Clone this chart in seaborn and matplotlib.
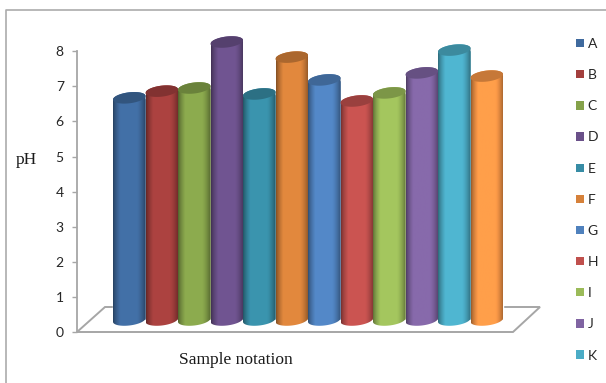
import numpy as np
import pandas as pd
import matplotlib
matplotlib.use("Agg")
import matplotlib.pyplot as plt
from matplotlib.lines import Line2D
from matplotlib.patches import Polygon, Patch
from matplotlib.path import Path
from matplotlib.colors import to_rgb
import seaborn as sns

# ---- data ----
samples = ["A", "B", "C", "D", "E", "F", "G", "H", "I", "J", "K", "L"]
ph_values = [6.33, 6.52, 6.61, 7.92, 6.44, 7.49, 6.84, 6.24, 6.47, 7.04, 7.69, 6.95]
colors = ["#3F6A9E", "#A33F3D", "#85A24A", "#6A5089", "#378CA5", "#D6813A",
          "#4F81BD", "#C0504D", "#9BBB59", "#8064A2", "#4BACC6", "#F79646"]
y_ticks = [0, 1, 2, 3, 4, 5, 6, 7, 8]

W, H = 606, 383
PX_PER_UNIT = 35.1
BAR_PX = 32.5
GRAY = "#A6A6A6"

sns.set_style("white")
plt.rcParams["font.family"] = ["Lato", "DejaVu Sans"]

fig = plt.figure(figsize=(W / 100, H / 100), dpi=100)
ax_left, ax_right, ax_bottom, ax_top = 77, 540, 332, 30
ax = fig.add_axes([ax_left / W, 1 - ax_bottom / H,
                   (ax_right - ax_left) / W, (ax_bottom - ax_top) / H])
ax.patch.set_alpha(0)

base = 12 / PX_PER_UNIT          # floor depth offset of the cylinders
a = 5.5 / PX_PER_UNIT            # ellipse half height
s = 1.8 / PX_PER_UNIT            # ellipse tilt

df = pd.DataFrame({"sample": samples, "pH": ph_values})
sns.barplot(data=df, x="sample", y="pH", hue="sample", palette=colors,
            width=1, bottom=base, dodge=False, errorbar=None, ax=ax, zorder=1, legend=False)

handles = [Patch(facecolor=c, edgecolor="none") for c in colors]
labels = list(samples)

# limits: pixel-derived
x0 = 129.25
to_x = lambda px: (px - x0) / BAR_PX
ax.set_xlim(to_x(ax_left), to_x(ax_right))
ymax = (ax_bottom - ax_top) / PX_PER_UNIT

# floor
floor_back = 25 / PX_PER_UNIT
floor = Polygon([(to_x(77), 0), (to_x(105), floor_back), (to_x(540), floor_back), (to_x(513), 0)],
                closed=True, facecolor="white", edgecolor=GRAY, lw=1.4, zorder=0.5, clip_on=False)
ax.add_patch(floor)

# cylinder shading
n = 80
u = np.linspace(0, 1, n)
shade = 0.60 + 0.46 * np.clip(u / 0.22, 0, 1) ** 0.7 - 0.42 * np.clip((u - 0.72) / 0.28, 0, 1) ** 1.5

t_top = np.linspace(0, np.pi, 50)
t_bot = np.linspace(np.pi, 2 * np.pi, 50)
t_all = np.linspace(0, 2 * np.pi, 100)

for i, (v, c) in enumerate(zip(ph_values, colors)):
    rgb = np.array(to_rgb(c))
    img = np.clip(shade[:, None] * rgb[None, :], 0, 1)[None, :, :]
    top = v + base
    xs = np.r_[i + 0.5 * np.cos(t_top), i + 0.5 * np.cos(t_bot)]
    ys = np.r_[top + a * np.sin(t_top) + s * np.cos(t_top),
               base + a * np.sin(t_bot) + s * np.cos(t_bot)]
    im = ax.imshow(img, extent=(i - 0.5, i + 0.5, 0, ymax), aspect="auto",
                   interpolation="bilinear", zorder=2 + i)
    im.set_clip_path(Path(np.c_[xs, ys]), transform=ax.transData)
    lid = Polygon(np.c_[i + 0.5 * np.cos(t_all),
                        top + a * np.sin(t_all) + s * np.cos(t_all)],
                  closed=True, facecolor=tuple(rgb * 0.8), edgecolor="none", zorder=2.5 + i)
    ax.add_patch(lid)

ax.set_xlim(to_x(ax_left), to_x(ax_right))
ax.set_ylim(0, ymax)

# axes styling
ax.set_yticks(y_ticks)
ax.set_xticks([])
for side in ["top", "right", "bottom"]:
    ax.spines[side].set_visible(False)
ax.spines["left"].set_color(GRAY)
ax.spines["left"].set_linewidth(1.3)
ax.spines["left"].set_bounds(0, 8)
ax.tick_params(axis="y", left=True, length=3.5, width=1, color=GRAY, pad=6,
               labelsize=10, labelcolor="#262626")

serif = ["Liberation Serif", "DejaVu Serif"]
ax.set_xlabel("Sample notation", family=serif, fontsize=12.5, color="#1a1a1a", va="center")
ax.xaxis.set_label_coords((236 - ax_left) / (ax_right - ax_left),
                          -(360 - ax_bottom) / (ax_bottom - ax_top))
ax.set_ylabel("pH", family=serif, fontsize=12.5, color="#1a1a1a", rotation=0, ha="center", va="center")
ax.yaxis.set_label_coords((26 - ax_left) / (ax_right - ax_left),
                          (ax_bottom - 160) / (ax_bottom - ax_top))

# legend (the last entry falls below the canvas in the reference)
fs = 10
ax.legend(handles[:11], labels[:11], loc="upper left", frameon=False,
          bbox_to_anchor=(576 / W, 1 - 38 / H), bbox_transform=fig.transFigure,
          borderaxespad=0, borderpad=0, fontsize=fs,
          handlelength=0.55, handleheight=0.55, handletextpad=0.3,
          labelspacing=1.379, labelcolor="#262626")

# chart frame
fig.add_artist(Line2D([6 / W, 6 / W, 1], [0, 1 - 10 / H, 1 - 10 / H], color="#ABABAB", lw=1.2))

fig.savefig("out.png", dpi=100, facecolor="white")
